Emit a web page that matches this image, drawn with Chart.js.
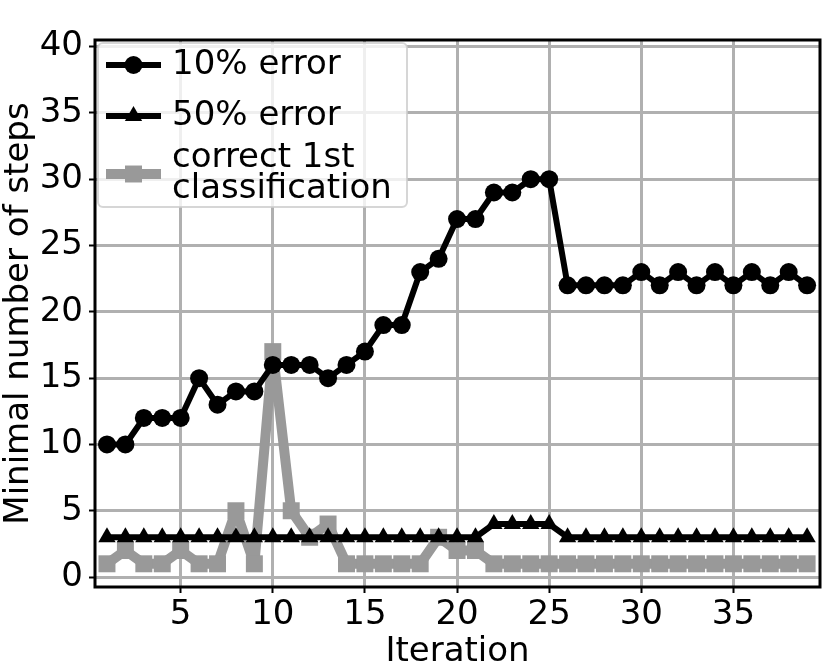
<!DOCTYPE html>
<html>
<head>
<meta charset="utf-8">
<script src="https://cdn.jsdelivr.net/npm/chart.js@4/dist/chart.umd.min.js"></script>
<style>
  html, body { margin: 0; padding: 0; background: #fff; }
  #wrap { width: 832px; height: 665px; }
</style>
</head>
<body>
<div id="wrap"><canvas id="stepsChart" width="832" height="665"></canvas></div>
<script>
// data
const iterations = [1, 2, 3, 4, 5, 6, 7, 8, 9, 10, 11, 12, 13, 14, 15, 16, 17, 18, 19, 20,
  21, 22, 23, 24, 25, 26, 27, 28, 29, 30, 31, 32, 33, 34, 35, 36, 37, 38, 39];
const error10 = [10, 10, 12, 12, 12, 15, 13, 14, 14, 16, 16, 16, 15, 16, 17, 19, 19, 23, 24, 27,
  27, 29, 29, 30, 30, 22, 22, 22, 22, 23, 22, 23, 22, 23, 22, 23, 22, 23, 22];
const error50 = [3, 3, 3, 3, 3, 3, 3, 3, 3, 3, 3, 3, 3, 3, 3, 3, 3, 3, 3, 3,
  3, 4, 4, 4, 4, 3, 3, 3, 3, 3, 3, 3, 3, 3, 3, 3, 3, 3, 3];
const firstCorrect = [1, 2, 1, 1, 2, 1, 1, 5, 1, 17, 5, 3, 4, 1, 1, 1, 1, 1, 3, 2,
  2, 1, 1, 1, 1, 1, 1, 1, 1, 1, 1, 1, 1, 1, 1, 1, 1, 1, 1];
const xTicks = [5, 10, 15, 20, 25, 30, 35];
const yTicks = [0, 5, 10, 15, 20, 25, 30, 35, 40];
const legendLabels = [["10% error"], ["50% error"], ["correct 1st", "classification"]];

const FONT = "'DejaVu Sans', sans-serif";
const FONT_SIZE = 34;
const GRAY = "#999999";

const toPoints = (ys) => iterations.map((x, i) => ({ x: x, y: ys[i] }));

// frame around the plot area and the legend box in the upper left corner
const framePlugin = {
  id: "frame",
  afterDraw(chart) {
    const { ctx, chartArea: a } = chart;
    ctx.save();
    ctx.strokeStyle = "#000";
    ctx.lineWidth = 3;
    ctx.strokeRect(a.left, a.top, a.right - a.left, a.bottom - a.top);

    // legend
    const bx = a.left + 3, by = a.top + 3, bw = 309, bh = 164;
    ctx.fillStyle = "rgba(255,255,255,0.8)";
    ctx.strokeStyle = "rgba(204,204,204,0.8)";
    ctx.lineWidth = 2;
    ctx.beginPath();
    ctx.roundRect(bx, by, bw, bh, 5);
    ctx.fill();
    ctx.stroke();

    const rows = [22, 73, 131];
    ctx.font = FONT_SIZE + "px " + FONT;
    ctx.textBaseline = "middle";
    chart.data.datasets.forEach((ds, i) => {
      const y = by + rows[i];
      ctx.strokeStyle = ds.borderColor;
      ctx.lineWidth = ds.borderWidth;
      ctx.beginPath();
      ctx.moveTo(bx + 8, y);
      ctx.lineTo(bx + 63, y);
      ctx.stroke();
      ctx.fillStyle = ds.borderColor;
      Chart.helpers.drawPoint(ctx, {
        pointStyle: ds.pointStyle,
        radius: ds.pointRadius,
        borderWidth: 0,
      }, bx + 35.5, y);
      ctx.fillStyle = "#000";
      const lines = legendLabels[i];
      lines.forEach((t, k) => {
        const off = (k - (lines.length - 1) / 2) * 31;
        ctx.fillText(t, bx + 74, y + off);
      });
    });
    ctx.restore();
  },
};

const lineStyle = { borderJoinStyle: "round", borderCapStyle: "round", pointBorderWidth: 0 };

const ctxSteps = document.getElementById("stepsChart");
new Chart(ctxSteps, {
  type: "line",
  data: {
    datasets: [
      {
        label: "10% error",
        data: toPoints(error10),
        borderColor: "#000",
        backgroundColor: "#000",
        borderWidth: 6,
        pointStyle: "circle",
        pointRadius: 9,
        ...lineStyle,
      },
      {
        label: "50% error",
        data: toPoints(error50),
        borderColor: "#000",
        backgroundColor: "#000",
        borderWidth: 6,
        pointStyle: "triangle",
        pointRadius: 10,
        ...lineStyle,
      },
      {
        label: "correct 1st classification",
        data: toPoints(firstCorrect),
        borderColor: GRAY,
        backgroundColor: GRAY,
        borderWidth: 10,
        pointStyle: "rect",
        pointRadius: 12,
        ...lineStyle,
      },
    ],
  },
  options: {
    responsive: false,
    animation: false,
    layout: { padding: { top: 40, right: 3, left: 0, bottom: 0 } },
    plugins: { legend: { display: false }, tooltip: { enabled: false } },
    elements: { line: { tension: 0 } },
    scales: {
      x: {
        type: "linear",
        min: 0.35,
        max: 39.7,
        afterBuildTicks: (s) => { s.ticks = xTicks.map((v) => ({ value: v })); },
        afterFit: (s) => { s.height = 78; },
        ticks: { color: "#000", font: { family: FONT, size: FONT_SIZE, lineHeight: 1 }, padding: 5, maxRotation: 0 },
        grid: { color: "#b0b0b0", lineWidth: 3, tickColor: "#000", tickLength: 6, tickWidth: 2 },
        border: { display: false },
        title: { display: true, text: "Iteration", color: "#000", font: { family: FONT, size: FONT_SIZE, lineHeight: 1 }, padding: { top: 0, bottom: -4 } },
      },
      y: {
        min: -0.75,
        max: 40.5,
        afterBuildTicks: (s) => { s.ticks = yTicks.map((v) => ({ value: v })); },
        afterFit: (s) => { s.width = 95; },
        ticks: { color: "#000", font: { family: FONT, size: FONT_SIZE }, padding: 6 },
        grid: { color: "#b0b0b0", lineWidth: 3, tickColor: "#000", tickLength: 6, tickWidth: 2 },
        border: { display: false },
        title: { display: true, text: "Minimal number of steps", color: "#000", font: { family: FONT, size: FONT_SIZE, lineHeight: 1 }, padding: { top: 2, bottom: 0 } },
      },
    },
  },
  plugins: [framePlugin],
});
</script>
</body>
</html>
